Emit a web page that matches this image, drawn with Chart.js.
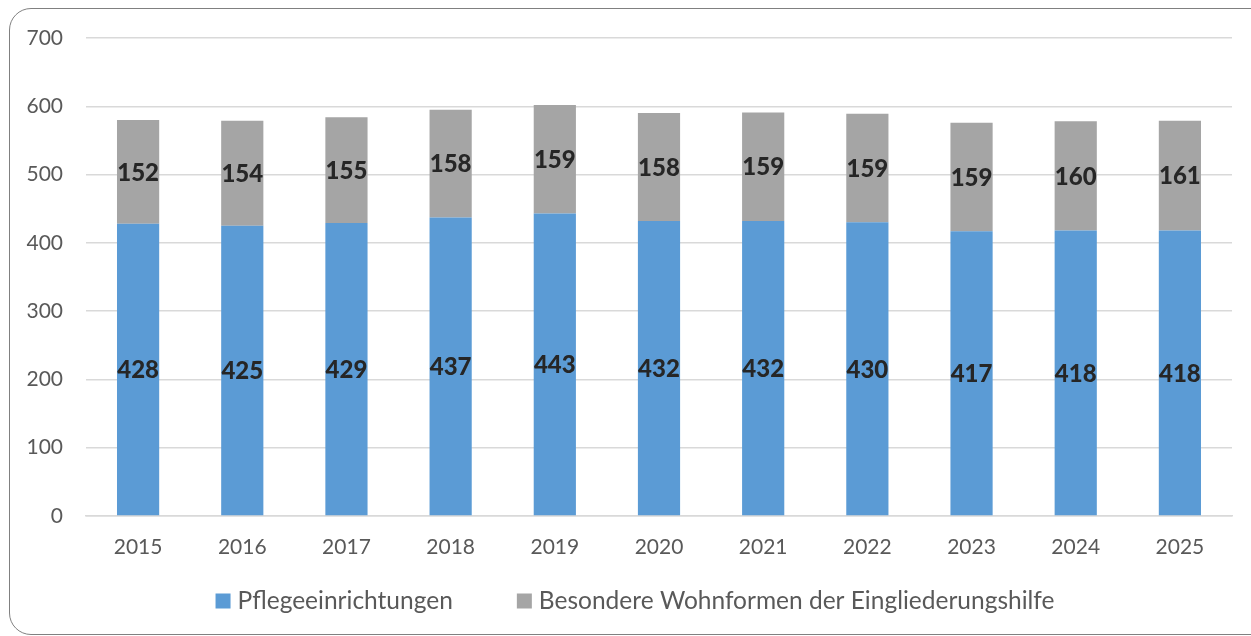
<!DOCTYPE html>
<html>
<head>
<meta charset="utf-8">
<script src="https://cdn.jsdelivr.net/npm/chart.js@4"></script>
<style>
html,body{margin:0;padding:0;background:#fff;overflow:hidden;}
#wrap{position:relative;width:1251px;height:636px;}
#frame{position:absolute;left:9px;top:8px;width:1270px;height:627px;border:1.5px solid #808080;border-radius:22px;box-sizing:border-box;pointer-events:none;}
canvas{position:absolute;left:0;top:0;}
</style>
</head>
<body>
<div id="wrap">
<canvas id="c" width="1251" height="636"></canvas>
<div id="frame"></div>
</div>
<script>
const categories = ['2015','2016','2017','2018','2019','2020','2021','2022','2023','2024','2025'];
const pflege = [428,425,429,437,443,432,432,430,417,418,418];
const wohnformen = [152,154,155,158,159,158,159,159,159,160,161];
const yTicks = [0,100,200,300,400,500,600,700];
const seriesNames = ['Pflegeeinrichtungen','Besondere Wohnformen der Eingliederungshilfe'];

const FONT = 'Lato, "Open Sans", sans-serif';

const labelPlugin = {
  id: 'segLabels',
  afterDatasetsDraw(chart) {
    const ctx = chart.ctx;
    ctx.save();
    ctx.font = '900 24px ' + FONT;
    ctx.fillStyle = '#262626';
    ctx.textAlign = 'center';
    ctx.textBaseline = 'middle';
    chart.data.datasets.forEach((ds, di) => {
      const meta = chart.getDatasetMeta(di);
      meta.data.forEach((bar, i) => {
        const p = bar.getProps(['x','y','base'], true);
        ctx.fillText(String(ds.data[i]), p.x, (p.y + p.base) / 2 + 1);
      });
    });
    ctx.restore();
  }
};

const legendPlugin = {
  id: 'customLegend',
  afterDraw(chart) {
    const ctx = chart.ctx;
    ctx.save();
    ctx.font = '24.5px ' + FONT;
    ctx.textBaseline = 'middle';
    ctx.textAlign = 'left';
    const box = 15, gapBoxText = 7, gapItems = 64;
    const items = chart.data.datasets.map(ds => ({ text: ds.label, color: ds.backgroundColor, w: ctx.measureText(ds.label).width }));
    let total = 0;
    items.forEach((it, i) => { total += box + gapBoxText + it.w + (i < items.length - 1 ? gapItems : 0); });
    let x = 635 - total / 2;
    const cy = 601;
    items.forEach(it => {
      ctx.fillStyle = it.color;
      ctx.fillRect(x, cy - box / 2, box, box);
      x += box + gapBoxText;
      ctx.fillStyle = '#595959';
      ctx.fillText(it.text, x, cy);
      x += it.w + gapItems;
    });
    ctx.restore();
  }
};

new Chart(document.getElementById('c'), {
  type: 'bar',
  data: {
    labels: categories,
    datasets: [
      { label: seriesNames[0], data: pflege, backgroundColor: '#5B9BD5', barPercentage: 0.81, categoryPercentage: 0.5 },
      { label: seriesNames[1], data: wohnformen, backgroundColor: '#A5A5A5', barPercentage: 0.81, categoryPercentage: 0.5 }
    ]
  },
  options: {
    responsive: false,
    animation: false,
    devicePixelRatio: 1,
    layout: { padding: { left: 0, right: 19, top: 38, bottom: 60 } },
    scales: {
      x: {
        stacked: true,
        afterFit(scale) { scale.height = 60; },
        grid: { display: false, drawTicks: false },
        border: { display: true, color: '#D9D9D9', width: 1.5 },
        ticks: { color: '#595959', font: { family: FONT, size: 21 }, padding: 19 }
      },
      y: {
        stacked: true,
        min: 0, max: 700,
        afterBuildTicks(scale) { scale.ticks = yTicks.map(v => ({ value: v })); },
        afterFit(scale) { scale.width = 86; },
        grid: { color: '#D9D9D9', lineWidth: 1.5, drawTicks: false },
        border: { display: false },
        ticks: { color: '#595959', font: { family: FONT, size: 21 }, padding: 23 }
      }
    },
    plugins: {
      legend: { display: false },
      tooltip: { enabled: false }
    }
  },
  plugins: [labelPlugin, legendPlugin]
});
</script>
</body>
</html>
